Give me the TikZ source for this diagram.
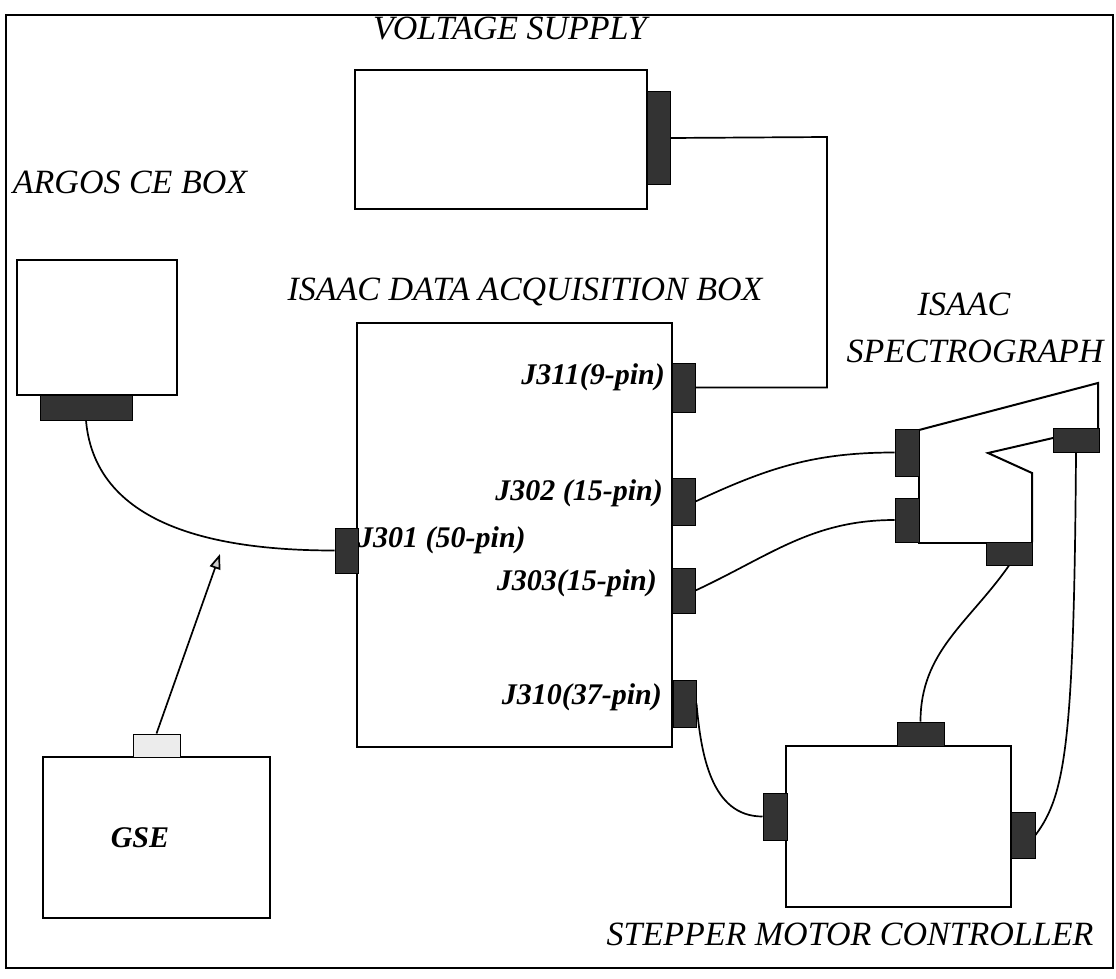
\documentclass[tikz,border=0pt]{standalone}
\usepackage{fontspec}
\setmainfont{Liberation Serif}
\usetikzlibrary{arrows.meta}

\tikzset{
  box/.style={draw, line width=2pt, inner sep=0pt},
  plug/.style={draw, fill=black!80, line width=1pt, inner sep=0pt},
  wire/.style={line width=1.7pt},
  title/.style={font=\fontsize{34}{40}\selectfont\itshape, anchor=base, inner sep=0pt},
  pinlabel/.style={font=\fontsize{30}{36}\selectfont\bfseries\itshape, inner sep=0pt},
}

\begin{document}
\begin{tikzpicture}[x=1pt, y=-1pt]
        \useasboundingbox (0,0) rectangle (1116,979);
        % rahmen
        \draw[line width=1.7pt] (6,15) rectangle (1113,968);

        % spektrograf
        \draw[box] (919,430) -- (1098,383) -- (1098,428);
        \draw[box] (1053,438) -- (988,453) -- (1032,473) -- (1032,542);
        \draw[box] (986,543) -- (919,543) -- (919,430);

        % bloky
        \node[box, minimum width=292, minimum height=139] (vs) at (501,139.5) {};
        \node[box, minimum width=315, minimum height=424] (daq) at (514.5,535) {};
        \node[box, minimum width=160, minimum height=135] (argos) at (97,327.5) {};
        \node[box, minimum width=227, minimum height=161] (gse) at (156.5,837.5) {};
        \node[box, minimum width=225, minimum height=161] (smc) at (898.5,826.5) {};

        % konektory
        \node[plug, minimum width=23, minimum height=92] (vsplug) at (658.5,138) {};
        \node[plug, minimum width=23, minimum height=49] (j311) at (683.5,387.5) {};
        \node[plug, minimum width=23, minimum height=47] (j302) at (683.5,501.5) {};
        \node[plug, minimum width=23, minimum height=45] (j303) at (683.5,590.5) {};
        \node[plug, minimum width=23, minimum height=47] (j310) at (684.5,703.5) {};
        \node[plug, minimum width=23, minimum height=45] (j301) at (346.5,550.5) {};
        \node[plug, minimum width=92, minimum height=25] (argplug) at (86,407.5) {};
        \node[plug, fill=gray!15, minimum width=47, minimum height=23] (gseplug) at (156.5,745.5) {};
        \node[plug, minimum width=47, minimum height=24] (smctop) at (920.5,734) {};
        \node[plug, minimum width=24, minimum height=47] (smcleft) at (775,816.5) {};
        \node[plug, minimum width=24, minimum height=46] (smcright) at (1023,835) {};
        \node[plug, minimum width=24, minimum height=47] (specup) at (907,452.5) {};
        \node[plug, minimum width=24, minimum height=44] (speclow) at (907,520) {};
        \node[plug, minimum width=46, minimum height=23] (specbot) at (1009,553.5) {};
        \node[plug, minimum width=46, minimum height=24] (specright) at (1076,440) {};

        % kabely
        \coordinate (vsbend) at (827,137);
        \draw[wire] (vsplug.east) -- (vsbend) |- (j311.east);
        \draw[wire] (argplug.south) to[out=-85, in=180] (j301.west);
        \draw[wire] (j302.east) to[out=25, in=180] (specup.west);
        \draw[wire] (j303.east) to[out=25, in=180] (speclow.west);
        \draw[wire] (j310.east) to[out=-85, in=180] (smcleft.west);
        \draw[wire] (specbot.south) to[out=-125, in=90] (smctop.north);
        \draw[wire] (specright.south) .. controls +(-2,290) and +(30,-40) .. (smcright.east);
        \coordinate (gsetip) at (220,554);
        \draw[wire, -{Triangle[length=15pt, width=11pt, fill=gray!40]}] (gseplug.north) -- (gsetip);

        % popisky
        \node[title] (vslabel) at (510,40) {VOLTAGE SUPPLY};
        \node[title] (arglabel) at (130,193) {ARGOS CE BOX};
        \node[title] (daqlabel) at (525,300) {ISAAC DATA ACQUISITION BOX};
        \node[title] (speclabel1) at (964,315) {ISAAC};
        \node[title] (speclabel2) at (975,362) {SPECTROGRAPH};
        \node[title] (smclabel) at (850,945) {STEPPER MOTOR CONTROLLER};
        \node[pinlabel] at (140,838) {GSE};

        \node[pinlabel, anchor=east] at (665,377) {J311(9-pin)};
        \node[pinlabel, anchor=east] at (663,493) {J302 (15-pin)};
        \node[pinlabel, anchor=east] at (657,583) {J303(15-pin)};
        \node[pinlabel, anchor=east] at (662,697) {J310(37-pin)};
        \node[pinlabel, anchor=west] at (358,540) {J301 (50-pin)};
    \end{tikzpicture}
\end{document}
